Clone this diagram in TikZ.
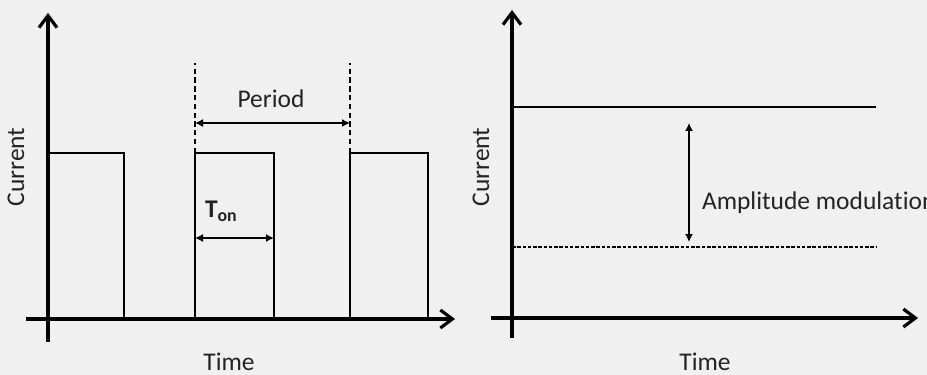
\documentclass[tikz,border=0pt]{standalone}
\usepackage{fontspec}
\setmainfont{Carlito}[Ligatures={NoCommon}]
\usetikzlibrary{arrows.meta}
\begin{document}
\begin{tikzpicture}[x=0.02cm,y=-0.02cm]
		\tikzstyle{every node}=[font=\fontsize{14.5}{17}\selectfont, text={rgb,255:red,35; green,35; blue,35}]
		\tikzstyle{eje} = [line width=1.8pt, -{Straight Barb[length=2.4mm, width=3.6mm, line width=1.8pt]}]
		\tikzstyle{senal} = [line width=0.8pt]
		\tikzstyle{guia} = [line width=0.8pt, dash pattern=on 3pt off 2pt]
		\tikzstyle{cota} = [{Latex[length=1.6mm, width=1.6mm]}-{Latex[length=1.6mm, width=1.6mm]}, line width=0.8pt]
		\tikzstyle{texto} = [align=center, inner sep=0pt, outer sep=0pt]

		% fondo y limites
		\fill[fill={rgb,255:red,240; green,240; blue,240}] (0,0) rectangle (927,375);
		\useasboundingbox (0,0) rectangle (927,375);
		\clip (0,0) rectangle (927,375);

		% grafico izquierdo: corriente pulsada
		\coordinate (x1a) at (26,319);
		\coordinate (x1b) at (455,319);
		\coordinate (y1a) at (48,342);
		\coordinate (y1b) at (48,13);
		\draw[senal] (48,153) -| (124,319);
		\draw[senal] (195,319) |- (274,153) -- (274,319);
		\draw[senal] (350,319) |- (428,153) -- (428,319);
		\draw[guia] (195,153) -- (195,63);
		\draw[guia] (350,153) -- (350,63);
		\draw[eje] (x1a) -- (x1b);
		\draw[eje] (y1a) -- (y1b);
		\coordinate (p1) at (195,123);
		\coordinate (p2) at (350,123);
		\draw[cota] (p1) -- (p2);
		\draw (271,99) node[texto](period){Period};
		\coordinate (t1) at (195,238);
		\coordinate (t2) at (274,238);
		\draw[cota] (t1) -- (t2);
		\draw (205,211) node[texto, anchor=west](ton){\textbf{T}\textsubscript{\textbf{on}}};
		\draw (16,167) node[texto, rotate=90](cur1){Current};
		\draw (229,362) node[texto](time1){Time};

		% grafico derecho: modulacion de amplitud
		\coordinate (x2a) at (491,318);
		\coordinate (x2b) at (918,318);
		\coordinate (y2a) at (512,338);
		\coordinate (y2b) at (512,10);
		\draw[senal] (512,107) -- (876,107);
		\draw[senal, dash pattern=on 2pt off 1pt] (512,247) -- (876,247);
		\draw[eje] (x2a) -- (x2b);
		\draw[eje] (y2a) -- (y2b);
		\coordinate (a1) at (689,123);
		\coordinate (a2) at (689,242);
		\draw[cota] (a1) -- (a2);
		\draw (702,203) node[texto, anchor=west](amp){Amplitude modulation};
		\draw (481,167) node[texto, rotate=90](cur2){Current};
		\draw (705,362) node[texto](time2){Time};
\end{tikzpicture}
\end{document}
